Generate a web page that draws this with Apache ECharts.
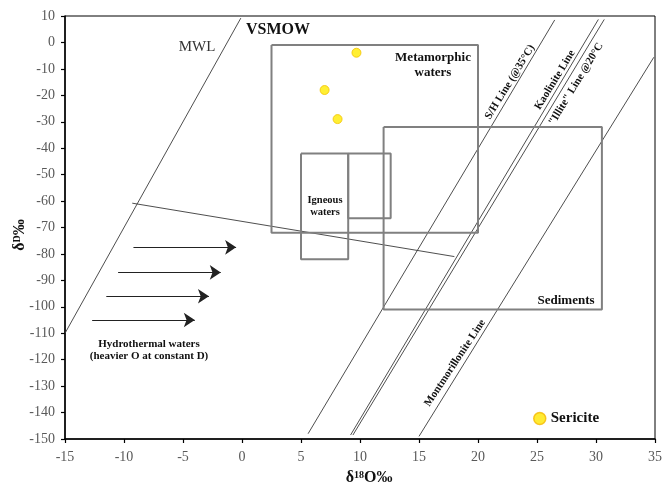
<!DOCTYPE html>
<html><head><meta charset="utf-8">
<script src="https://cdn.jsdelivr.net/npm/echarts@6/dist/echarts.min.js"></script>
<style>html,body{margin:0;padding:0;background:#fff}#c{width:665px;height:487px}</style>
</head><body><div id="c"></div>
<script>
// ---- data (δ18O ‰, δD ‰) ----
const sericite = [[9.7, -3.9], [7.0, -18], [8.1, -29]];
const mwlLine = [[-15, -110], [-0.1, 9.2]];
const mixingLine = [[-9.3, -60.8], [18, -81]];
const shLine = [[5.6, -148], [26.5, 8.5]];
const kaoliniteLine = [[9.2, -148.5], [30.2, 8.7]];
const illiteLine = [[9.4, -148.5], [30.7, 8.7]];
const montmorilloniteLine = [[15, -149], [34.9, -5.6]];
// boxes: [xmin, xmax, ymin, ymax]
const metamorphicBox = [2.5, 20, -72, -1];
const igneousBox = [5, 9, -82, -42];
const igneousExtBox = [9, 12.6, -66.5, -42];
const sedimentsBox = [12, 30.5, -101, -32];
// hydrothermal arrows
const arrowY = [-77.5, -87, -96, -105];
const arrowStart = [-9.2, -10.5, -11.5, -12.7];
const arrowEnd = [-0.5, -1.8, -2.8, -4.0];
const xTicks = {min: -15, max: 35, interval: 5};
const yTicks = {min: -150, max: 10, interval: 10};

const FONT = "'Liberation Serif','Times New Roman',serif";
function boxPath(b) {
  return [[b[0], b[3]], [b[1], b[3]], [b[1], b[2]], [b[0], b[2]], [b[0], b[3]]];
}
function lineSeries(data, color, width) {
  return {type: 'line', data: data, symbol: 'none', silent: true, animation: false,
    lineStyle: {color: color, width: width}, z: 2};
}
const series = [
  lineSeries(mwlLine, '#3a3a3a', 0.9),
  lineSeries(mixingLine, '#3a3a3a', 0.9),
  lineSeries(shLine, '#3a3a3a', 0.9),
  lineSeries(kaoliniteLine, '#3a3a3a', 0.9),
  lineSeries(illiteLine, '#3a3a3a', 0.9),
  lineSeries(montmorilloniteLine, '#3a3a3a', 0.9),
  lineSeries(boxPath(metamorphicBox), '#808080', 2),
  lineSeries(boxPath(igneousBox), '#808080', 2),
  lineSeries(boxPath(igneousExtBox), '#808080', 2),
  lineSeries(boxPath(sedimentsBox), '#808080', 2),
  {type: 'lines', coordinateSystem: 'cartesian2d', silent: true, animation: false,
    symbol: ['none', 'arrow'], symbolSize: [0, 11],
    lineStyle: {color: '#222', width: 1.2, opacity: 1},
    data: arrowY.map((y, i) => ({coords: [[arrowStart[i], y], [arrowEnd[i], y]]}))},
  {type: 'scatter', name: 'Sericite', data: sericite, symbol: 'circle', symbolSize: 9,
    itemStyle: {color: '#FFEB00', borderColor: '#F2C200', borderWidth: 1}, z: 5, animation: false}
];

const chart = echarts.init(document.getElementById('c'));
const deg = Math.PI / 180;
function t(x, y, text, size, bold, extra) {
  return Object.assign({type: 'text', x: x, y: y, z: 10,
    style: Object.assign({text: text, fontFamily: FONT, fontSize: size, fontWeight: bold ? 'bold' : 'normal',
      fill: '#111', align: 'center', verticalAlign: 'middle'}, extra && extra.style || {})},
    extra && extra.el || {});
}
chart.setOption({
  backgroundColor: '#fff',
  animation: false,
  grid: {left: 65, right: 8, top: 16, bottom: 48, show: true, borderColor: '#000', borderWidth: 1, backgroundColor: 'transparent'},
  xAxis: {type: 'value', min: xTicks.min, max: xTicks.max, interval: xTicks.interval,
    axisLine: {onZero: false, lineStyle: {color: '#000', width: 1.5}},
    axisTick: {show: true, length: 4, lineStyle: {color: '#000', width: 1.2}},
    axisLabel: {color: '#595959', fontFamily: FONT, fontSize: 14, margin: 11},
    splitLine: {show: false}},
  yAxis: {type: 'value', min: yTicks.min, max: yTicks.max, interval: yTicks.interval,
    axisLine: {onZero: false, lineStyle: {color: '#000', width: 1.5}},
    axisTick: {show: true, length: 4, lineStyle: {color: '#000', width: 1.2}},
    axisLabel: {color: '#595959', fontFamily: FONT, fontSize: 14, margin: 10},
    splitLine: {show: false}},
  legend: {data: [{name: 'Sericite', icon: 'circle',
      itemStyle: {color: '#FFE600', borderColor: '#F5B800', borderWidth: 1.5}}],
    left: 528, top: 406, itemWidth: 12, itemHeight: 12, itemGap: 5,
    textStyle: {fontFamily: FONT, fontSize: 15, fontWeight: 'bold', color: '#111'}},
  series: series,
  graphic: [
    t(197, 47, 'MWL', 15, false, {style: {fill: '#333'}}),
    t(278, 30, 'VSMOW', 16, true),
    t(433, 58, 'Metamorphic', 13, true),
    t(433, 73, 'waters', 13, true),
    t(325, 200, 'Igneous', 10.5, true),
    t(325, 212, 'waters', 10.5, true),
    t(566, 301, 'Sediments', 13, true),
    t(149, 344, 'Hydrothermal waters', 11, true),
    t(149, 356, '(heavier O at constant D)', 11, true),
    t(510, 82, 'S/H Line (@35°C)', 11, true, {el: {rotation: 58.5 * deg}}),
    t(555, 80, 'Kaolinite Line', 11, true, {el: {rotation: 58.5 * deg}}),
    t(576, 84, '"Illite" Line @20°C', 11, true, {el: {rotation: 58.5 * deg}}),
    t(455, 363, 'Montmorillonite Line', 11, true, {el: {rotation: 56.5 * deg}}),
    {type: 'text', x: 20, y: 235, rotation: 90 * deg, z: 10,
      style: {text: '{a|δ}{s|D}{a|‰}', align: 'center', verticalAlign: 'middle',
        rich: {a: {fontFamily: FONT, fontSize: 16, fontWeight: 'bold', fill: '#111', color: '#111'},
               s: {fontFamily: FONT, fontSize: 10, fontWeight: 'bold', fill: '#111', color: '#111', verticalAlign: 'top', padding: [0, 0, 6, 0]}}}},
    {type: 'text', x: 369, y: 478, z: 10,
      style: {text: '{a|δ}{s|18}{a|O‰}', align: 'center', verticalAlign: 'middle',
        rich: {a: {fontFamily: FONT, fontSize: 16, fontWeight: 'bold', fill: '#111', color: '#111'},
               s: {fontFamily: FONT, fontSize: 10, fontWeight: 'bold', fill: '#111', color: '#111', padding: [0, 0, 6, 0]}}}}
  ]
});
</script></body></html>
